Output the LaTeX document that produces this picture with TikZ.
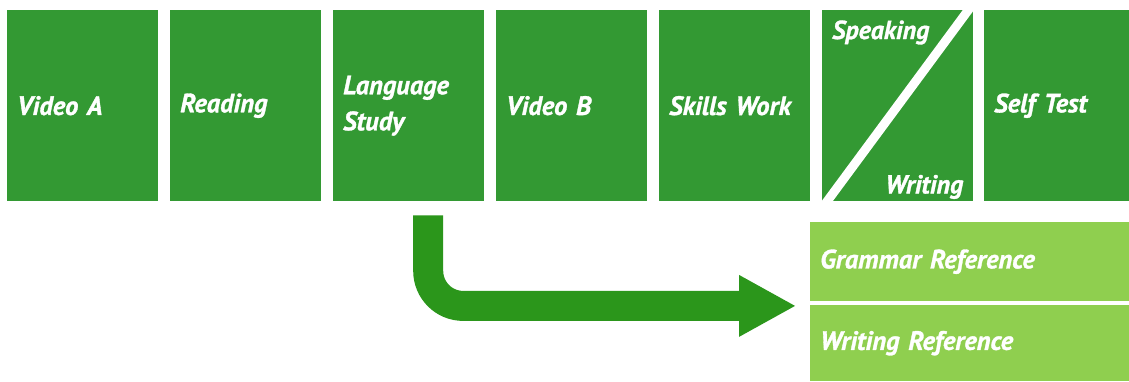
\documentclass[tikz,border=0pt]{standalone}
\usepackage{fontspec}
\newfontfamily\lblfont{PT Sans}[BoldItalicFeatures={FakeBold=1.2}]
\usetikzlibrary{calc}
\definecolor{boxgreen}{HTML}{339933}
\definecolor{arrowgreen}{HTML}{2B961B}
\definecolor{refgreen}{HTML}{8FCF4F}
\begin{document}
\begin{tikzpicture}[x=1pt,y=-1pt,
  lbl/.style={text=white, inner sep=0pt, font=\lblfont\bfseries\itshape\fontsize{26.5}{36}\selectfont},
  unit/.style={lbl, fill=boxgreen, anchor=north west, minimum width=151pt, minimum height=191pt,
    inner xsep=10pt, inner ysep=0pt, text width=131pt, align=left},
  refbox/.style={lbl, fill=refgreen, anchor=north west, minimum width=325pt,
    inner xsep=10pt, inner ysep=0pt, text width=305pt, align=left},
  cornerlbl/.style={lbl, font=\lblfont\bfseries\itshape\fontsize{26}{30}\selectfont},
  bigarrow/.style={draw=arrowgreen, line width=30pt, rounded corners=35pt}]
\useasboundingbox[fill=white] (0,0) rectangle (1129,381);
% top row
\node[unit] (va) at (7,10) {Video A};
\node[unit] (rd) at (170,10) {Reading};
\node[unit] (ls) at (333,10) {Language\\Study};
\node[unit] (vb) at (496,10) {Video B};
\node[unit] (sk) at (659,10) {Skills Work};
\node[unit] (sw) at (822,10) {};
\node[unit] (st) at (984,10) {Self Test};
% split box
\begin{scope}
  \clip (sw.north west) rectangle (sw.south east);
  \draw[white, line width=9pt] ($(sw.north east)+(9,-19)$) -- ($(sw.south west)+(-9,19)$);
\end{scope}
\node[cornerlbl, anchor=base west] (spk) at ($(sw.north west)+(10,29)$) {Speaking};
\node[cornerlbl, anchor=base east] (wrt) at ($(sw.south east)+(-10,-8)$) {Writing};
% reference boxes
\node[refbox, minimum height=79pt] (gr) at (810,222) {Grammar Reference};
\node[refbox, minimum height=76pt] (wr) at (810,305) {Writing Reference};
% arrow
\coordinate (as) at ($(ls.south)+(19.5,14)$);
\coordinate (ae) at ($(gr.south west)+(-15,4.5)$);
\coordinate (ab) at ($(ae)+(-56,0)$);
\draw[bigarrow] (as) |- ($(ab)+(2,0)$);
\fill[arrowgreen] ($(ab)+(0,-31)$) -- (ae) -- ($(ab)+(0,31)$) -- cycle;
\end{tikzpicture}
\end{document}
